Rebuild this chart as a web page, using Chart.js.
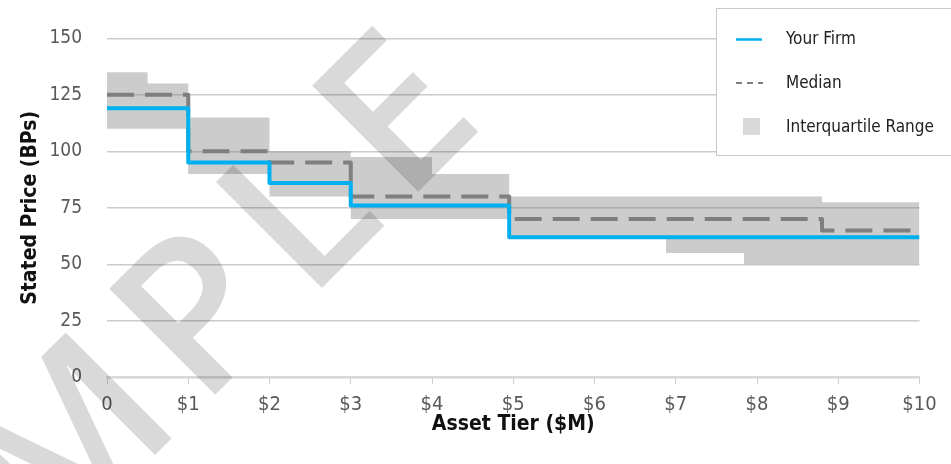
<!DOCTYPE html>
<html>
<head>
<meta charset="utf-8">
<script src="https://cdn.jsdelivr.net/npm/chart.js@4.4.1/dist/chart.umd.min.js"></script>
<style>
  html, body { margin: 0; padding: 0; background: #ffffff; }
  #wrap { width: 951px; height: 464px; position: relative; }
</style>
</head>
<body>
<div id="wrap"><canvas id="chart" width="951" height="464"></canvas></div>
<script>
// Asset tier axis labels ($ millions)
const xTickLabels = ['0', '$1', '$2', '$3', '$4', '$5', '$6', '$7', '$8', '$9', '$10'];

// Firm's stated price by tier (step starts, last entry closes the final step)
const firmTier = [0, 1, 2, 3, 4.95, 10];
const firmPrice = [119, 95, 86, 76, 62, 62];

// Peer median stated price
const medianTier = [0, 1, 2, 3, 4.95, 8.8, 10];
const medianPrice = [125, 100, 95, 80, 70, 65, 65];

// Peer interquartile range (upper and lower quartile)
const iqrTier = [0, 0.5, 1, 2, 3, 4, 4.95, 6.88, 7.84, 8.8, 10];
const iqrUpper = [135, 130, 115, 100, 97.5, 90, 80, 80, 80, 77.5, 77.5];
const iqrLower = [110, 110, 90, 80, 70, 70, 62, 55, 50, 50, 50];

const seriesNames = ['Your Firm', 'Median', 'Interquartile Range'];

const FONT = "'DejaVu Sans Condensed', 'DejaVu Sans', sans-serif";
const BLUE = '#00b0f0';
const MEDIAN_GREY = '#7f7f7f';

const toPoints = (xs, ys) => xs.map((x, i) => ({ x: x, y: ys[i] }));

// Boxed legend in the upper right corner
const boxLegend = {
  id: 'boxLegend',
  afterDatasetsDraw(chart) {
    const ctx = chart.ctx;
    ctx.save();
    ctx.fillStyle = '#ffffff';
    ctx.fillRect(716, 8, 250, 147);
    ctx.strokeStyle = '#c8c8c8';
    ctx.lineWidth = 1;
    ctx.strokeRect(716.5, 8.5, 250, 147);

    // Your Firm
    ctx.strokeStyle = BLUE;
    ctx.lineWidth = 2.5;
    ctx.beginPath(); ctx.moveTo(736, 39.5); ctx.lineTo(762, 39.5); ctx.stroke();
    // Median
    ctx.strokeStyle = MEDIAN_GREY;
    ctx.lineWidth = 2;
    ctx.setLineDash([6, 5]);
    ctx.beginPath(); ctx.moveTo(736, 83); ctx.lineTo(763, 83); ctx.stroke();
    ctx.setLineDash([]);
    // Interquartile range swatch
    ctx.fillStyle = '#d9d9d9';
    ctx.fillRect(743, 118, 17, 17);

    ctx.fillStyle = '#222222';
    ctx.font = '17px ' + FONT;
    ctx.textAlign = 'left';
    ctx.textBaseline = 'middle';
    ctx.fillText(seriesNames[0], 786, 40);
    ctx.fillText(seriesNames[1], 786, 84);
    ctx.fillText(seriesNames[2], 786, 128);
    ctx.restore();
  }
};

// Diagonal "SAMPLE" stamp across the plot, laid out letter by letter
const sampleStamp = {
  id: 'sampleStamp',
  afterDraw(chart) {
    const ctx = chart.ctx;
    const word = 'SAMPLE';
    const tracking = 22;
    const angle = -45 * Math.PI / 180;
    ctx.save();
    ctx.font = "600 210px 'Open Sans', 'Liberation Sans', sans-serif";
    ctx.fillStyle = 'rgba(0,0,0,0.15)';
    ctx.textAlign = 'left';
    ctx.textBaseline = 'alphabetic';
    const adv = word.split('').map(ch => ctx.measureText(ch).width + tracking);
    // the L sits with its baseline origin here; walk back to find the S
    const lOrigin = { x: 308, y: 302 };
    const before = adv[0] + adv[1] + adv[2] + adv[3];
    ctx.translate(lOrigin.x, lOrigin.y);
    ctx.rotate(angle);
    let pos = -before;
    for (let i = 0; i < word.length; i++) {
      ctx.fillText(word[i], pos, 0);
      pos += adv[i];
    }
    ctx.restore();
  }
};

new Chart(document.getElementById('chart'), {
  type: 'line',
  data: {
    datasets: [
      {
        label: seriesNames[0],
        data: toPoints(firmTier, firmPrice),
        stepped: 'before',
        borderColor: BLUE,
        borderWidth: 4,
        borderJoinStyle: 'round',
        pointRadius: 0,
        fill: false
      },
      {
        label: seriesNames[1],
        data: toPoints(medianTier, medianPrice),
        stepped: 'before',
        borderColor: MEDIAN_GREY,
        borderWidth: 4,
        borderDash: [27, 11],
        borderJoinStyle: 'round',
        pointRadius: 0,
        fill: false
      },
      {
        label: seriesNames[2],
        data: toPoints(iqrTier, iqrUpper),
        stepped: 'before',
        borderWidth: 0,
        borderColor: 'rgba(0,0,0,0)',
        backgroundColor: 'rgba(127,127,127,0.4)',
        pointRadius: 0,
        fill: '+1'
      },
      {
        label: 'Lower quartile',
        data: toPoints(iqrTier, iqrLower),
        stepped: 'before',
        borderWidth: 0,
        borderColor: 'rgba(0,0,0,0)',
        pointRadius: 0,
        fill: false
      }
    ]
  },
  options: {
    responsive: false,
    animation: false,
    devicePixelRatio: 1,
    layout: { padding: { top: 38.3, right: 31.5, bottom: 0, left: 0 } },
    plugins: {
      legend: { display: false },
      tooltip: { enabled: false }
    },
    scales: {
      x: {
        type: 'linear',
        min: 0,
        max: 10,
        afterFit(scale) { scale.height = 86.7; },
        border: { display: true, color: '#d9d9d9', width: 2 },
        grid: { drawOnChartArea: false, drawTicks: true, tickLength: 7, color: '#d0d0d0', lineWidth: 1 },
        ticks: {
          stepSize: 1,
          autoSkip: false,
          maxRotation: 0,
          padding: 8,
          color: '#595959',
          font: { family: FONT, size: 20 },
          callback: (v) => xTickLabels[Math.round(v)]
        },
        title: {
          display: true,
          text: 'Asset Tier ($M)',
          color: '#111111',
          font: { family: FONT, size: 21, weight: 'bold' },
          padding: { top: 0, bottom: 27 }
        }
      },
      y: {
        min: 0,
        max: 150,
        afterFit(scale) { scale.width = 107; },
        border: { display: false },
        grid: { color: '#cccccc', lineWidth: 1.5, drawTicks: false },
        ticks: {
          stepSize: 25,
          padding: 25,
          color: '#595959',
          font: { family: FONT, size: 19 }
        },
        title: {
          display: true,
          text: 'Stated Price (BPs)',
          color: '#111111',
          font: { family: FONT, size: 21, weight: 'bold' },
          padding: { top: 18, bottom: 0 }
        }
      }
    }
  },
  plugins: [boxLegend, sampleStamp]
});
</script>
</body>
</html>
